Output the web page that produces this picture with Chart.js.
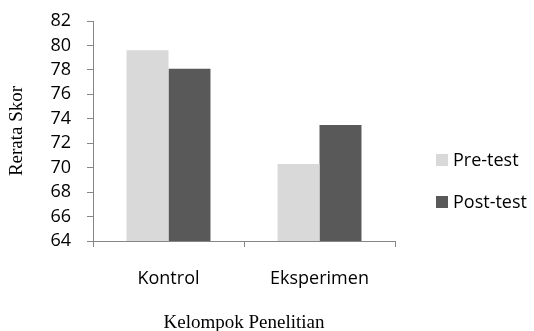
<!DOCTYPE html>
<html lang="id">
<head>
    <meta charset="UTF-8">
    <title>Rerata Skor per Kelompok</title>
    <script src="https://cdn.jsdelivr.net/npm/chart.js"></script>
    <style>
        body {
            margin: 0;
            padding: 0;
            background: #ffffff;
        }
        .wrap {
            width: 534px;
            height: 331px;
        }
    </style>
</head>
<body>
    <div class="wrap">
        <canvas id="bar-chart" width="534" height="331"></canvas>
    </div>

    <script>
        // data
        const kelompok = ["Kontrol", "Eksperimen"];
        const preTest = [79.6, 70.3];
        const postTest = [78.1, 73.5];
        const yTicks = { min: 64, max: 82, step: 2 };

        const axisGray = "#868686";
        const tickFont = { family: "'Open Sans'", size: 18, lineHeight: 1 };
        const titleFont = { family: "'Liberation Serif', 'Times New Roman', serif", size: 19, lineHeight: 1 };

        // legend drawn by hand so it can sit apart from the plot like the original
        const sideLegend = {
            id: "sideLegend",
            afterDraw(chart) {
                const ctx = chart.ctx;
                ctx.save();
                ctx.font = "18px 'Open Sans'";
                ctx.textBaseline = "middle";
                chart.data.datasets.forEach((ds, i) => {
                    const cy = 160 + i * 42;
                    ctx.fillStyle = ds.backgroundColor;
                    ctx.fillRect(436, cy - 6, 12, 12);
                    ctx.fillStyle = "#000";
                    ctx.fillText(ds.label, 453, cy + 1);
                });
                ctx.restore();
            }
        };

        const ctx = document.getElementById("bar-chart").getContext("2d");
        new Chart(ctx, {
            type: "bar",
            data: {
                labels: kelompok,
                datasets: [
                    { label: "Pre-test", data: preTest, backgroundColor: "#d9d9d9" },
                    { label: "Post-test", data: postTest, backgroundColor: "#595959" }
                ]
            },
            options: {
                responsive: false,
                animation: false,
                categoryPercentage: 0.556,
                barPercentage: 1,
                layout: { padding: { top: 21, right: 139, bottom: 0, left: 0 } },
                plugins: {
                    legend: { display: false },
                    tooltip: { enabled: false }
                },
                scales: {
                    x: {
                        grid: { drawOnChartArea: false, tickLength: 6, color: axisGray },
                        border: { color: axisGray },
                        ticks: { color: "#000", font: tickFont, padding: 23 },
                        title: {
                            display: true,
                            text: "Kelompok Penelitian",
                            color: "#000",
                            font: titleFont,
                            padding: { top: 18, bottom: -2 }
                        },
                        afterFit(scale) { scale.height = 90; }
                    },
                    y: {
                        min: yTicks.min,
                        max: yTicks.max,
                        ticks: { stepSize: yTicks.step, autoSkip: false, color: "#000", font: tickFont, padding: 16 },
                        grid: { drawOnChartArea: false, tickLength: 6, color: axisGray },
                        border: { color: axisGray },
                        title: {
                            display: true,
                            text: "Rerata Skor",
                            color: "#000",
                            font: titleFont,
                            padding: { top: 8, bottom: 0 }
                        },
                        afterFit(scale) {
                            scale.width = 93;
                            scale.paddingTop = 0;
                            scale.paddingBottom = 0;
                        }
                    }
                }
            },
            plugins: [sideLegend]
        });
    </script>
</body>
</html>
